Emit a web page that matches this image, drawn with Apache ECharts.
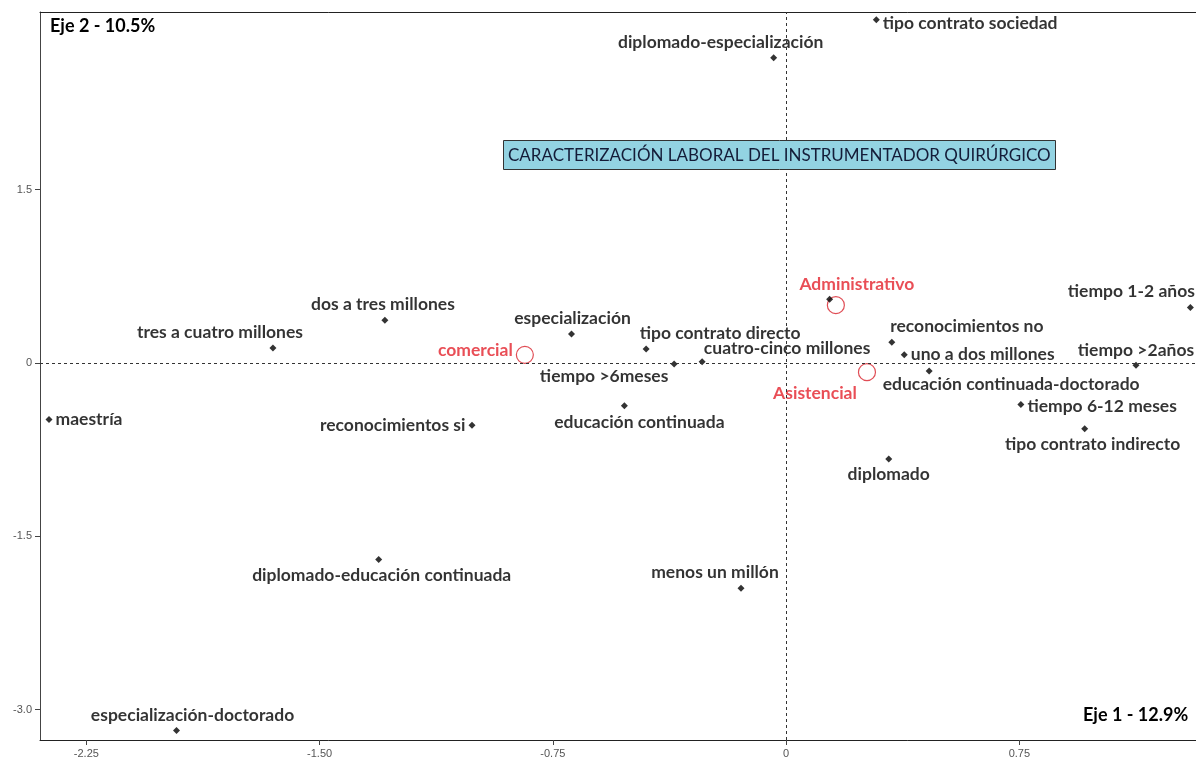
<!DOCTYPE html>
<html>
<head>
  <meta charset="utf-8">
  <title>Caracterización laboral del instrumentador quirúrgico</title>
  <style type="text/css">
    html, body { margin: 0; padding: 0; background: #fff; }
    #main { width: 1196px; height: 763px; }
  </style>
</head>
<body>
<div id="main"></div>
<script type="text/javascript" src="https://cdn.jsdelivr.net/npm/echarts@6/dist/echarts.min.js"></script>
<script type="text/javascript">
  // modalidades (puntos negros)
  var names = [
    'tipo contrato sociedad', 'diplomado-especialización', 'tiempo 1-2 años', 'reconocimientos no',
    'uno a dos millones', 'tiempo >2años', 'educación continuada-doctorado', 'tiempo 6-12 meses',
    'tipo contrato indirecto', 'diplomado', 'especialización', 'tipo contrato directo',
    'cuatro-cinco millones', 'tiempo >6meses', 'educación continuada', 'reconocimientos si',
    'dos a tres millones', 'tres a cuatro millones', 'maestría', 'diplomado-educación continuada',
    'menos un millón', 'especialización-doctorado', ''
  ];
  var eje1 = [0.29, -0.04, 1.30, 0.34, 0.38, 1.125, 0.46, 0.755, 0.96, 0.33, -0.69, -0.45,
              -0.27, -0.36, -0.52, -1.01, -1.29, -1.65, -2.37, -1.31, -0.145, -1.96, 0.14];
  var eje2 = [2.97, 2.64, 0.48, 0.18, 0.07, -0.02, -0.07, -0.36, -0.57, -0.83, 0.25, 0.12,
              0.01, -0.01, -0.37, -0.54, 0.37, 0.13, -0.49, -1.70, -1.95, -3.18, 0.55];

  // perfiles suplementarios (círculos rojos)
  var perfiles = ['Administrativo', 'comercial', 'Asistencial'];
  var perfilX = [0.16, -0.84, 0.26];
  var perfilY = [0.50, 0.07, -0.08];

  var xTicks = [-2.25, -1.5, -0.75, 0, 0.75];
  var yTicks = [-3, -1.5, 0, 1.5];

  // colocación de etiquetas: [posición, desplazamiento x, desplazamiento y]
  var place = {
    'tipo contrato sociedad': ['right', 0, 4],
    'diplomado-especialización': ['top', -53, 0],
    'tiempo 1-2 años': ['top', -59, -1],
    'reconocimientos no': ['top', 75, 0],
    'uno a dos millones': ['right', 0, 0],
    'tiempo >2años': ['top', 0, 1],
    'educación continuada-doctorado': ['bottom', 82, -2],
    'tiempo 6-12 meses': ['right', 0, 2],
    'tipo contrato indirecto': ['bottom', 8, 0],
    'diplomado': ['bottom', 0, 0],
    'especialización': ['top', 1, 0],
    'tipo contrato directo': ['top', 74, 0],
    'cuatro-cinco millones': ['top', 85, 2],
    'tiempo >6meses': ['bottom', -70, -3],
    'educación continuada': ['bottom', 15, 1],
    'reconocimientos si': ['left', 0, 0],
    'dos a tres millones': ['top', -2, 0],
    'tres a cuatro millones': ['top', -53, 0],
    'maestría': ['right', 0, 0],
    'diplomado-educación continuada': ['bottom', 3, 0],
    'menos un millón': ['top', -26, 0],
    'especialización-doctorado': ['top', 16, 0],
    'Administrativo': ['top', 21, 0],
    'comercial': ['left', 0, -4],
    'Asistencial': ['bottom', -52, 0]
  };

  var font = 'Lato, "Open Sans", sans-serif';
  var xMin = -2.399, xMax = 1.318;

  function build(ns, xs, ys, color) {
    return ns.map(function (n, i) {
      var p = place[n] || ['right', 0, 0];
      return {
        name: n,
        value: [xs[i], ys[i]],
        label: {
          show: n !== '',
          position: p[0],
          offset: [p[1], p[2]],
          distance: 3,
          formatter: '{b}',
          color: color,
          fontFamily: font,
          fontWeight: 'bold',
          fontSize: 17.5
        }
      };
    });
  }

  var myChart = echarts.init(document.getElementById('main'));

  var option = {
    animation: false,
    title: [
      {
        text: 'CARACTERIZACIÓN LABORAL DEL INSTRUMENTADOR QUIRÚRGICO',
        left: 503,
        top: 140,
        padding: [7, 5, 6, 5],
        backgroundColor: '#93d3e2',
        borderColor: '#333',
        borderWidth: 1,
        textStyle: { color: '#141c38', fontFamily: font, fontWeight: 'normal', fontSize: 17 }
      },
      {
        text: 'Eje 2 - 10.5%',
        left: 50,
        top: 17,
        padding: 0,
        textStyle: { color: '#000', fontFamily: font, fontWeight: 'bold', fontSize: 18 }
      },
      {
        text: 'Eje 1 - 12.9%',
        left: 1083,
        top: 706,
        padding: 0,
        textStyle: { color: '#000', fontFamily: font, fontWeight: 'bold', fontSize: 18 }
      }
    ],
    grid: {
      left: 40,
      top: 12,
      right: 0,
      height: 728,
      show: false
    },
    xAxis: [
      {
        type: 'value',
        min: xMin,
        max: xMax,
        axisLine: { onZero: false, lineStyle: { color: '#222', width: 1 } },
        axisTick: { show: true, length: 5, customValues: xTicks, lineStyle: { color: '#444' } },
        axisLabel: {
          customValues: xTicks,
          color: '#555',
          fontFamily: 'Liberation Sans, Arial, sans-serif',
          fontSize: 11,
          margin: 8,
          formatter: function (v) { return v === 0 ? '0' : v.toFixed(2); }
        },
        splitLine: { show: false }
      },
      {
        // solo la línea superior del marco
        type: 'value',
        position: 'top',
        min: xMin,
        max: xMax,
        axisLine: { show: true, onZero: false, lineStyle: { color: '#222', width: 1 } },
        axisTick: { show: false },
        axisLabel: { show: false },
        splitLine: { show: false }
      }
    ],
    yAxis: {
      type: 'value',
      min: -3.262,
      max: 3.036,
      axisLine: { show: true, onZero: false, lineStyle: { color: '#444', width: 1 } },
      axisTick: { show: true, length: 5, customValues: yTicks, lineStyle: { color: '#444' } },
      axisLabel: {
        customValues: yTicks,
        color: '#555',
        fontFamily: 'Liberation Sans, Arial, sans-serif',
        fontSize: 11,
        margin: 8,
        formatter: function (v) { return v === 0 ? '0' : v.toFixed(1); }
      },
      splitLine: { show: false }
    },
    series: [
      {
        name: 'modalidades',
        type: 'scatter',
        symbol: 'diamond',
        symbolSize: 7,
        itemStyle: { color: '#000' },
        data: build(names, eje1, eje2, '#000'),
        markLine: {
          silent: true,
          symbol: 'none',
          label: { show: false },
          lineStyle: { color: '#333', type: [3, 3], width: 1 },
          data: [{ xAxis: 0 }, { yAxis: 0 }]
        },
        z: 3
      },
      {
        name: 'perfiles',
        type: 'scatter',
        symbol: 'circle',
        symbolSize: 17,
        itemStyle: { color: 'rgba(255,255,255,0)', borderColor: '#d8202a', borderWidth: 1.2 },
        data: build(perfiles, perfilX, perfilY, '#e4222c'),
        z: 2
      }
    ]
  };

  myChart.setOption(option);
</script>
</body>
</html>
